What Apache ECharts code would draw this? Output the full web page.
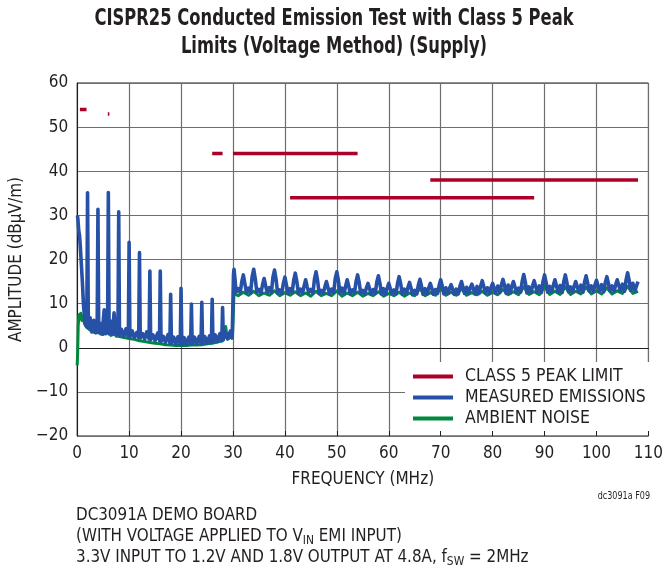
<!DOCTYPE html>
<html>
<head>
<meta charset="utf-8">
<script src="https://cdn.jsdelivr.net/npm/echarts@6/dist/echarts.min.js"></script>
<style>
    html, body { margin: 0; padding: 0; background: #fff; }
    #chart { width: 666px; height: 569px; }
</style>
</head>
<body>
<div id="chart"></div>
<script>
// 軸刻度
const freqTicks = [0, 10, 20, 30, 40, 50, 60, 70, 80, 90, 100, 110];
const ampTicks = [-20, -10, 0, 10, 20, 30, 40, 50, 60];

// CLASS 5 峰值限制 (MHz, dBμV/m)
const limitStart = [0.53, 5.9, 26, 30, 41, 68];
const limitStop = [1.8, 6.2, 28, 54, 88, 108];
const limitLevel = [54, 53, 44, 44, 34, 38];

// 量測輻射 0~30MHz [MHz, dBμV/m]
const measuredLow = [
    [0.05, 30], [0.15, 29], [0.3, 26.5], [0.45, 25.5], [0.6, 23], [0.8, 19], [1.0, 15], [1.2, 10], [1.4, 7], [1.6, 5.5],
    [1.85, 4.8], [2.0, 35.1], [2.15, 4.5], [2.5, 6.8], [2.8, 3.6], [3.2, 6.2], [3.6, 3.4], [3.85, 4.5],
    [4.0, 31.4], [4.15, 3.4], [4.5, 5.5], [4.8, 3.2], [5.2, 8.6], [5.5, 3.2], [5.85, 4],
    [6.0, 35.2], [6.15, 3.1], [6.5, 6], [6.8, 3.0], [7.1, 7.9], [7.5, 3.0], [7.85, 3.5],
    [8.0, 30.8], [8.15, 2.8], [8.5, 4.2], [9.0, 2.6], [9.4, 4.3], [9.85, 2.5],
    [10.0, 23.9], [10.15, 2.5], [10.6, 3.8], [11.0, 2.3], [11.5, 3.5], [11.85, 2.3],
    [12.0, 21.6], [12.15, 2.2], [12.6, 3.2], [13.0, 2.0], [13.4, 3.6], [13.85, 2.0],
    [14.0, 17.4], [14.15, 1.8], [14.6, 2.9], [15.0, 1.6], [15.5, 3.3], [15.85, 1.6],
    [16.0, 17.4], [16.15, 1.4], [16.6, 2.6], [17.0, 1.2], [17.5, 3.0], [17.85, 1.1],
    [18.0, 12.1], [18.15, 1.0], [18.6, 2.4], [19.0, 0.8], [19.4, 2.5], [19.85, 0.8],
    [20.0, 13.5], [20.15, 0.7], [20.6, 2.3], [21.0, 0.7], [21.5, 2.4], [21.85, 0.8],
    [22.0, 9.9], [22.15, 0.8], [22.6, 2.4], [23.0, 0.8], [23.5, 2.6], [23.85, 0.9],
    [24.0, 10.3], [24.15, 1.0], [24.6, 2.5], [25.0, 1.0], [25.5, 2.7], [25.85, 1.2],
    [26.0, 11.0], [26.15, 1.3], [26.6, 2.9], [27.0, 1.4], [27.5, 3.2], [27.85, 1.6],
    [28.0, 9.1], [28.15, 1.8], [28.5, 3.6], [29.0, 2.0], [29.5, 3.8], [29.85, 2.2], [30.0, 2.4],
];

// 量測輻射 30~108MHz [MHz, dBμV/m]
const measuredHigh = [
    [30.1, 16.5], [30.2, 17.8], [30.4, 15.5], [30.6, 12.6], [31, 13.4], [31.4, 12.5],
    [31.7, 15.0], [32, 16.5], [32.3, 14.5], [32.6, 12.5], [33, 13.5], [33.4, 12.4],
    [33.7, 16.2], [34, 17.8], [34.3, 15.6], [34.6, 12.6], [35, 13.2], [35.4, 12.4],
    [35.7, 14.3], [36, 15.7], [36.3, 14.0], [36.6, 12.5], [37, 13.6], [37.4, 12.5],
    [37.7, 16.0], [38, 17.6], [38.3, 15.5], [38.6, 12.4], [39, 13.1], [39.4, 12.3],
    [39.7, 14.6], [40, 16.0], [40.3, 14.2], [40.6, 12.4], [41, 13.4], [41.4, 12.5],
    [41.7, 15.3], [42, 16.9], [42.3, 15.0], [42.6, 12.3], [43, 13.3], [43.4, 12.4],
    [43.7, 14.0], [44, 15.4], [44.3, 13.8], [44.6, 12.5], [45, 13.2], [45.4, 12.4],
    [45.7, 15.6], [46, 17.2], [46.3, 15.2], [46.6, 12.3], [47, 13.0], [47.4, 12.4],
    [47.7, 13.8], [48, 15.0], [48.3, 13.6], [48.6, 12.2], [49, 13.3], [49.4, 12.5],
    [49.7, 15.7], [50, 17.2], [50.3, 15.3], [50.6, 12.4], [51, 13.5], [51.4, 12.3],
    [51.7, 14.0], [52, 15.4], [52.3, 13.9], [52.6, 12.2], [53, 13.1], [53.4, 12.4],
    [53.7, 15.0], [54, 16.5], [54.3, 14.8], [54.6, 12.3], [55, 13.0], [55.4, 12.2],
    [55.7, 13.6], [56, 14.6], [56.3, 13.4], [56.6, 12.1], [57, 13.2], [57.4, 12.3],
    [57.7, 14.9], [58, 16.3], [58.3, 14.6], [58.6, 12.2], [59, 13.4], [59.4, 12.1],
    [59.7, 13.5], [60, 14.6], [60.3, 13.4], [60.6, 12.3], [61, 13.1], [61.4, 12.2],
    [61.7, 14.7], [62, 16.1], [62.3, 14.5], [62.6, 12.1], [63, 13.3], [63.4, 12.2],
    [63.7, 13.7], [64, 14.8], [64.3, 13.5], [64.6, 12.0], [65, 13.0], [65.4, 12.2],
    [65.7, 14.2], [66, 15.5], [66.3, 14.0], [66.6, 12.1], [67, 13.4], [67.4, 12.2],
    [67.7, 13.6], [68, 14.6], [68.3, 13.4], [68.6, 12.1], [69, 13.2], [69.4, 12.3],
    [69.7, 14.1], [70, 15.4], [70.3, 14.0], [70.6, 12.2], [71, 13.6], [71.4, 12.3],
    [71.7, 13.5], [72, 14.3], [72.3, 13.3], [72.6, 12.1], [73, 13.3], [73.4, 12.2],
    [73.7, 13.9], [74, 15.0], [74.3, 13.7], [74.6, 12.3], [75, 13.7], [75.4, 12.4],
    [75.7, 13.6], [76, 14.4], [76.3, 13.4], [76.6, 12.2], [77, 13.9], [77.4, 12.3],
    [77.7, 14.0], [78, 15.2], [78.3, 13.9], [78.6, 12.4], [79, 13.6], [79.4, 12.3],
    [79.7, 13.7], [80, 14.6], [80.3, 13.5], [80.6, 12.4], [81, 14.0], [81.4, 12.5],
    [81.7, 14.3], [82, 15.5], [82.3, 14.1], [82.6, 12.3], [83, 14.2], [83.4, 12.4],
    [83.7, 14.0], [84, 15.0], [84.3, 13.8], [84.6, 12.5], [85, 13.5], [85.4, 12.6],
    [85.7, 15.1], [86, 16.6], [86.3, 14.9], [86.6, 12.4], [87, 13.8], [87.4, 12.5],
    [87.7, 14.1], [88, 15.2], [88.3, 13.9], [88.6, 12.6], [89, 14.0], [89.4, 12.5],
    [89.7, 15.0], [90, 16.5], [90.3, 14.8], [90.6, 12.6], [91, 13.9], [91.4, 12.7],
    [91.7, 14.2], [92, 15.4], [92.3, 14.0], [92.6, 12.6], [93, 14.1], [93.4, 12.5],
    [93.7, 15.0], [94, 16.5], [94.3, 14.8], [94.6, 12.7], [95, 13.8], [95.4, 12.6],
    [95.7, 14.0], [96, 15.0], [96.3, 13.8], [96.6, 12.7], [97, 14.2], [97.4, 12.6],
    [97.7, 14.9], [98, 16.3], [98.3, 14.7], [98.6, 12.8], [99, 14.0], [99.4, 12.7],
    [99.7, 14.2], [100, 15.3], [100.3, 14.0], [100.6, 12.8], [101, 14.3], [101.4, 12.7],
    [101.7, 14.8], [102, 16.1], [102.3, 14.6], [102.6, 12.9], [103, 14.0], [103.4, 12.8],
    [103.7, 14.3], [104, 15.4], [104.3, 14.1], [104.6, 12.9], [105, 14.4], [105.4, 12.8],
    [105.7, 15.4], [106, 17.0], [106.3, 15.2], [106.6, 13.0], [107, 14.6], [107.4, 12.9],
    [107.7, 14.0], [108, 15.0],
];

// 環境雜訊 [MHz, dBμV/m]
const ambientLow = [
    [0.0, -4], [0.1, -1], [0.2, 5], [0.35, 7.5], [0.5, 6.5], [0.7, 7.8], [0.9, 6.2], [1.1, 7.2], [1.4, 5.5], [1.7, 4.8],
    [2.0, 4.5], [2.5, 4.0], [3.0, 3.6], [3.5, 3.4], [4.0, 3.8], [4.5, 3.1], [5.0, 3.0], [5.5, 3.4], [6.0, 4.3], [6.5, 2.8],
    [7.0, 4.0], [7.5, 2.6], [8.0, 2.6], [9, 2.3], [10, 2.1], [11, 1.9], [12, 1.6], [13, 1.4], [14, 1.2], [15, 1.0],
    [16, 0.9], [17, 0.7], [18, 0.6], [19, 0.5], [20, 0.5], [21, 0.5], [22, 0.6], [23, 0.6], [24, 0.7], [25, 0.9],
    [26, 1.0], [27, 1.3], [28, 1.6], [28.6, 4.8], [28.9, 2.0], [29.5, 2.3], [29.9, 2.6],
];
const ambientHigh = [
    [30.2, 12.3], [31, 11.8], [32, 12.6], [33, 11.9], [34, 12.8], [35, 11.8], [36, 12.4], [37, 11.9], [38, 12.9], [39, 11.8],
    [40, 12.5], [41, 11.9], [42, 12.7], [43, 11.8], [44, 12.4], [45, 11.7], [46, 12.8], [47, 11.8], [48, 12.3], [49, 11.8],
    [50, 12.9], [51, 11.7], [52, 12.4], [53, 11.8], [54, 12.6], [55, 11.7], [56, 12.3], [57, 11.8], [58, 12.7], [59, 11.7],
    [60, 12.3], [61, 11.8], [62, 12.6], [63, 11.7], [64, 12.4], [65, 11.8], [66, 13.4], [67, 11.8], [68, 12.5], [69, 11.9],
    [70, 13.5], [71, 11.9], [72, 12.6], [73, 11.9], [74, 13.4], [75, 11.9], [76, 12.5], [77, 12.0], [78, 12.8], [79, 11.9],
    [80, 12.6], [81, 12.0], [82, 13.2], [83, 12.0], [84, 12.7], [85, 12.0], [86, 13.8], [87, 12.1], [88, 12.7], [89, 12.0],
    [90, 13.9], [91, 12.1], [92, 12.8], [93, 12.1], [94, 13.8], [95, 12.1], [96, 12.8], [97, 12.2], [98, 13.7], [99, 12.2],
    [100, 12.9], [101, 12.2], [102, 13.6], [103, 12.2], [104, 12.9], [105, 12.3], [106, 13.9], [107, 12.3], [108, 12.8],
];

const seriesNames = ["CLASS 5 PEAK LIMIT", "MEASURED EMISSIONS", "AMBIENT NOISE"];
const seriesColors = ["#ab0029", "#2751a6", "#00883c"];

const FONT = "'Liberation Sans Narrow', 'DejaVu Sans Condensed', sans-serif";
const TEXT_COLOR = "#231f20";

function minusLabel(v) {
    return v < 0 ? "\u2212" + Math.abs(v) : String(v);
}

// 限制線一段一個 series，名稱相同，圖例只會出現一次
const limitSeries = limitStart.map((start, i) => ({
    name: seriesNames[0],
    type: "line",
    data: [
        [start, limitLevel[i]],
        [limitStop[i], limitLevel[i]],
    ],
    symbol: "none",
    color: seriesColors[0],
    lineStyle: { width: 3.5, cap: "butt" },
    z: 4,
}));

const chartOption = {
    animation: false,
    backgroundColor: "#fff",
    grid: {
        left: 76,
        top: 83,
        width: 576,
        height: 353,
        show: true,
        borderColor: "#231f20",
        borderWidth: 1,
    },
    legend: {
        data: seriesNames,
        orient: "vertical",
        left: 413,
        top: 366,
        padding: 0,
        itemGap: 0,
        itemWidth: 40,
        itemHeight: 4,
        icon: "rect",
        selectedMode: false,
        textStyle: {
            fontFamily: FONT,
            fontSize: 17.5,
            lineHeight: 21,
            color: TEXT_COLOR,
            padding: [0, 0, 0, 7],
        },
    },
    xAxis: [
        {
            type: "value",
            min: freqTicks[0],
            max: freqTicks[freqTicks.length - 1],
            interval: 10,
            position: "bottom",
            name: "FREQUENCY (MHz)",
            nameLocation: "middle",
            nameGap: 35,
            nameTextStyle: { fontFamily: FONT, fontSize: 17, color: TEXT_COLOR },
            axisLine: { lineStyle: { color: "#231f20", width: 1 } },
            axisTick: { show: false },
            axisLabel: { fontFamily: FONT, fontSize: 17, color: TEXT_COLOR, margin: 9 },
            splitLine: { show: true, lineStyle: { color: "#6e6e6e", width: 1.2 } },
        },
        {
            // 只畫刻度 (在圖例底色上方)
            type: "value",
            min: freqTicks[0],
            max: freqTicks[freqTicks.length - 1],
            interval: 10,
            position: "bottom",
            axisLine: { show: false },
            axisLabel: { show: false },
            splitLine: { show: false },
            axisTick: { show: true, inside: true, length: 5, lineStyle: { color: "#231f20", width: 1 } },
            z: 6,
        },
    ],
    yAxis: {
        type: "value",
        min: ampTicks[0],
        max: ampTicks[ampTicks.length - 1],
        interval: 10,
        name: "AMPLITUDE (dBμV/m)",
        nameLocation: "middle",
        nameGap: 44,
        nameTextStyle: { fontFamily: FONT, fontSize: 17, color: TEXT_COLOR },
        axisLine: { show: true, lineStyle: { color: "#231f20", width: 1 } },
        axisTick: { show: false },
        axisLabel: { fontFamily: FONT, fontSize: 17, color: TEXT_COLOR, margin: 9, formatter: minusLabel },
        splitLine: { show: true, lineStyle: { color: "#6e6e6e", width: 1.2 } },
    },
    series: [
        ...limitSeries,
        {
            name: seriesNames[1],
            type: "line",
            data: measuredLow.concat(measuredHigh),
            symbol: "none",
            color: seriesColors[1],
            lineStyle: { width: 3.6, join: "round" },
            z: 3,
        },
        {
            name: seriesNames[2],
            type: "line",
            data: ambientLow.concat(ambientHigh),
            symbol: "none",
            color: seriesColors[2],
            lineStyle: { width: 3, join: "round" },
            z: 2,
        },
    ],
    graphic: [
        {
            // 圖例底色
            type: "rect",
            shape: { x: 405, y: 362, width: 246, height: 73 },
            style: { fill: "#fff" },
            z: 1,
            silent: true,
        },
        {
            type: "text",
            x: 334,
            y: 5,
            scaleX: 0.79,
            style: {
                x: 0,
                y: 0,
                text: "CISPR25 Conducted Emission Test with Class 5 Peak\nLimits (Voltage Method) (Supply)",
                textAlign: "center",
                fontFamily: FONT,
                fontWeight: "bold",
                fontSize: 23,
                lineHeight: 28,
                fill: TEXT_COLOR,
            },
        },
        {
            type: "text",
            x: 650,
            y: 496,
            scaleX: 0.85,
            style: {
                x: 0,
                y: 0,
                text: "dc3091a F09",
                textAlign: "right",
                textVerticalAlign: "middle",
                fontFamily: FONT,
                fontSize: 10.5,
                fill: TEXT_COLOR,
            },
        },
        {
            type: "text",
            x: 76,
            y: 505,
            scaleX: 0.99,
            style: {
                x: 0,
                y: 0,
                text:
                    "{n|DC3091A DEMO BOARD}\n" +
                    "{n|(WITH VOLTAGE APPLIED TO V}{s|IN}{n| EMI INPUT)}\n" +
                    "{n|3.3V INPUT TO 1.2V AND 1.8V OUTPUT AT 4.8A, f}{s|SW}{n| = 2MHz}",
                fontFamily: FONT,
                fill: TEXT_COLOR,
                rich: {
                    n: { fontFamily: FONT, fontSize: 17, lineHeight: 21, fill: TEXT_COLOR, color: TEXT_COLOR },
                    s: { fontFamily: FONT, fontSize: 12, lineHeight: 10, padding: [9, 0, 0, 0], fill: TEXT_COLOR, color: TEXT_COLOR },
                },
            },
        },
    ],
};

const chart = echarts.init(document.getElementById("chart"));
chart.setOption(chartOption);
</script>
</body>
</html>
